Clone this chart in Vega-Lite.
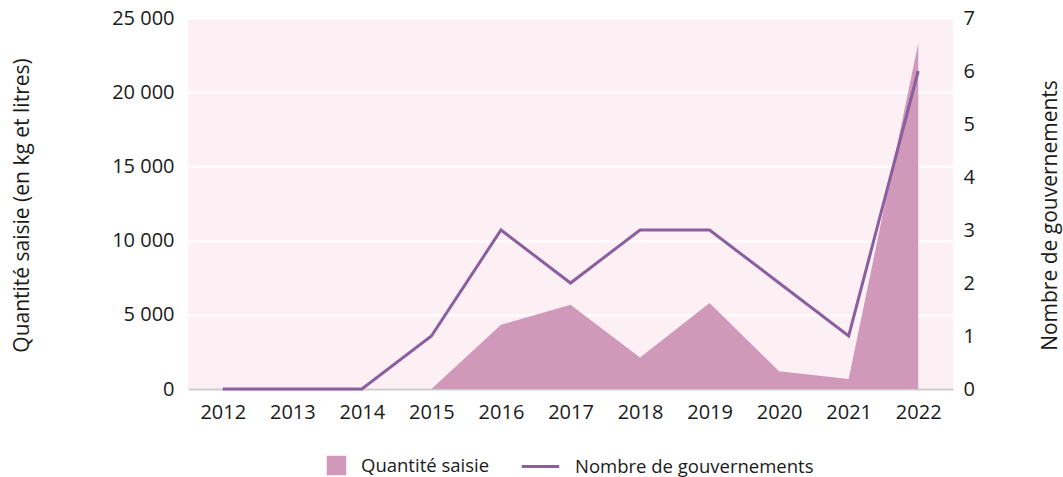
{
  "$schema": "https://vega.github.io/schema/vega-lite/v6.json",
  "autosize": {"type": "none"},
  "width": 765,
  "height": 371,
  "padding": {"left": 188, "top": 18, "right": 110, "bottom": 88},
  "background": "white",
  "config": {
    "view": {"fill": "#fcf0f5", "stroke": null},
    "font": "Open Sans",
    "axis": {"labelFont": "Open Sans", "titleFont": "Open Sans", "labelColor": "#1a1a1a", "titleColor": "#1a1a1a", "labelFontSize": 20, "titleFontSize": 21, "titleFontWeight": "normal", "ticks": false},
    "legend": {"labelFont": "Open Sans", "labelFontSize": 18.5, "labelColor": "#1a1a1a", "labelLimit": 400}
  },
  "data": {
    "values": [
      {"annee": "2012", "quantite": 0, "gouv": 0},
      {"annee": "2013", "quantite": 0, "gouv": 0},
      {"annee": "2014", "quantite": 0, "gouv": 0},
      {"annee": "2015", "quantite": 0, "gouv": 1},
      {"annee": "2016", "quantite": 4330, "gouv": 3},
      {"annee": "2017", "quantite": 5680, "gouv": 2},
      {"annee": "2018", "quantite": 2130, "gouv": 3},
      {"annee": "2019", "quantite": 5800, "gouv": 3},
      {"annee": "2020", "quantite": 1190, "gouv": 2},
      {"annee": "2021", "quantite": 680, "gouv": 1},
      {"annee": "2022", "quantite": 23300, "gouv": 6}
    ]
  },
  "encoding": {
    "x": {
      "field": "annee", "type": "ordinal",
      "scale": {"type": "point", "padding": 0.5},
      "axis": {"title": null, "labelAngle": 0, "labelPadding": 13, "domainColor": "#cccccc", "domainWidth": 2, "grid": false}
    }
  },
  "layer": [
    {
      "mark": {"type": "area", "opacity": 1},
      "encoding": {
        "y": {
          "field": "quantite", "type": "quantitative",
          "scale": {"domain": [0, 25000], "nice": false},
          "axis": {
            "title": "Quantité saisie (en kg et litres)",
            "values": [0, 5000, 10000, 15000, 20000, 25000],
            "labelExpr": "replace(format(datum.value, ','), ',', ' ')",
            "labelPadding": 14,
            "domain": false,
            "grid": true, "gridColor": "#ffffff", "gridWidth": 2,
            "titleX": -166, "titleY": 187, "titleAngle": 270, "titleBaseline": "middle", "titleAlign": "center"
          }
        },
        "fill": {
          "datum": "Quantité saisie",
          "scale": {"domain": ["Quantité saisie"], "range": ["#d199b9"]},
          "legend": {"title": null, "orient": "none", "legendX": 138, "legendY": 437, "symbolType": "square", "symbolSize": 380, "symbolOpacity": 1, "labelOffset": 14, "padding": 0}
        }
      }
    },
    {
      "mark": {"type": "line", "strokeWidth": 3},
      "encoding": {
        "y": {
          "field": "gouv", "type": "quantitative",
          "scale": {"domain": [0, 7], "nice": false},
          "axis": {
            "orient": "right",
            "title": "Nombre de gouvernements",
            "values": [0, 1, 2, 3, 4, 5, 6, 7],
            "labelPadding": 10,
            "domain": false,
            "grid": false,
            "titleX": 97, "titleY": 197, "titleAngle": 270, "titleBaseline": "middle", "titleAlign": "center"
          }
        },
        "stroke": {
          "datum": "Nombre de gouvernements",
          "scale": {"domain": ["Nombre de gouvernements"], "range": ["#8b5e9f"]},
          "legend": {"title": null, "orient": "none", "legendX": 332, "legendY": 428, "symbolType": "stroke", "symbolSize": 1400, "symbolStrokeWidth": 3, "labelOffset": 14, "padding": 0}
        }
      }
    }
  ],
  "resolve": {"scale": {"y": "independent", "fill": "independent", "stroke": "independent"}}
}
